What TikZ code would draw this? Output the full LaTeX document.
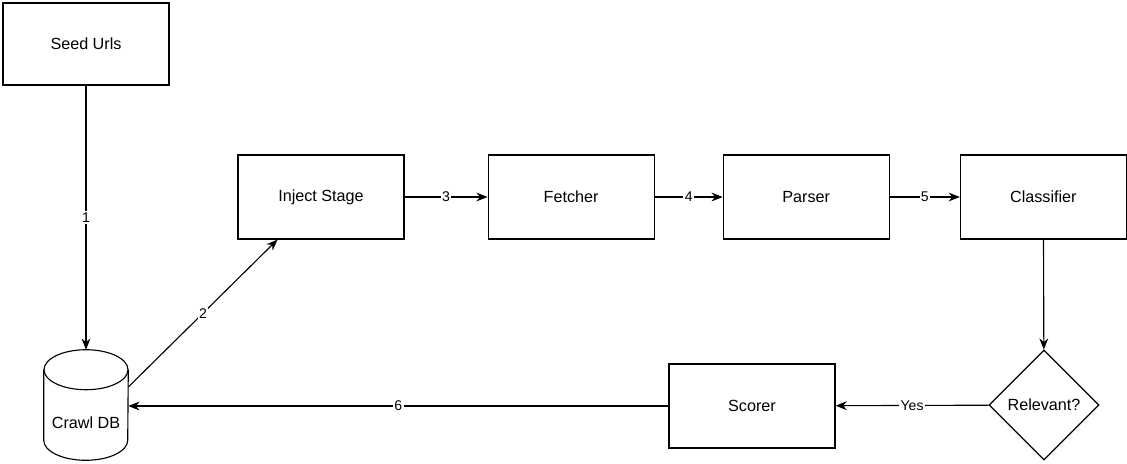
\documentclass[tikz,border=0pt]{standalone}
\usepackage{fontspec}
\setmainfont{Liberation Sans}
\usetikzlibrary{shapes.geometric, arrows.meta, positioning, calc}
\tikzset{
    box/.style={rectangle, draw, fill=white, line width=0.8pt, minimum width=4.15cm, minimum height=2.1cm, align=center, font=\fontsize{11.5}{14}\selectfont},
    store/.style={rectangle, inner sep=0pt, minimum width=2.1cm, minimum height=2.75cm},
    decision/.style={diamond, draw, line width=0.8pt, minimum width=2.75cm, minimum height=2.75cm, inner sep=0pt, font=\fontsize{11.5}{14}\selectfont},
    arr/.style={-{Stealth[length=2.8mm, width=2.2mm]}, line width=0.8pt},
    arrlab/.style={font=\fontsize{10}{12}\selectfont, fill=white, inner sep=1pt},
}
\begin{document}
\begin{tikzpicture}
\useasboundingbox (0,0) rectangle (28.175,-11.575);

% ── Sources ──
\node[box, minimum height=2.05cm] (seed) at (2.15,-1.1) {Seed Urls};
\node[store, label={[font=\fontsize{11.5}{14}\selectfont, yshift=-0.45cm]center:Crawl DB}] (db) at (2.15,-10.125) {};
% cylinder outline
\draw[line width=0.8pt] ([yshift=-0.5cm]db.north west) -- ([yshift=0.5cm]db.south west)
    arc[start angle=180, end angle=360, x radius=1.05cm, y radius=0.5cm] -- ([yshift=-0.5cm]db.north east);
\draw[line width=0.8pt] ([yshift=-0.5cm]db.north) ellipse[x radius=1.05cm, y radius=0.5cm];

% ── Pipeline ──
\node[box] (inject) at (8.025,-4.925) {Inject Stage};
\node[box, right=2.075cm of inject] (fetch) {Fetcher};
\node[box, right=1.7cm of fetch] (parse) {Parser};
\node[box, right=1.75cm of parse] (classify) {Classifier};

% ── Feedback ──
\node[decision] (relevant) at (26.1,-10.125) {Relevant?};
\node[box] (score) at (18.8,-10.15) {Scorer};

% ── Connections ──
\draw[arr] (seed) -- node[arrlab] {1} (db.north);
\draw[arr] ([yshift=0.45cm]db.east) -- node[arrlab] {2} ($(inject.south west)!0.24!(inject.south east)$);
\draw[arr] (inject) -- node[arrlab] {3} (fetch);
\draw[arr] (fetch) -- node[arrlab] {4} (parse);
\draw[arr] (parse) -- node[arrlab] {5} (classify);
\draw[arr] (classify) -- (relevant);
\draw[arr] (relevant) -- node[arrlab] {Yes} (score);
\draw[arr] (score) -- node[arrlab] {6} (score -| db.east);

\end{tikzpicture}
\end{document}
